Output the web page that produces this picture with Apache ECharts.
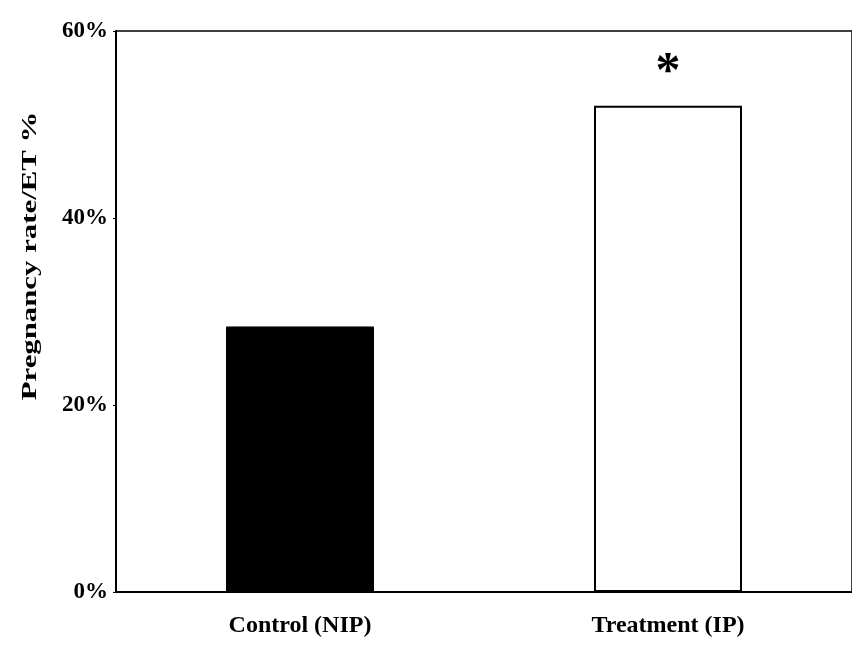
<!DOCTYPE html>
<html>
<head>
<meta charset="utf-8">
<script src="https://cdn.jsdelivr.net/npm/echarts@6/dist/echarts.min.js"></script>
<style>html,body{margin:0;padding:0;background:#fff;}#c{width:852px;height:652px;}</style>
</head>
<body>
<div id="c"></div>
<script>
var categories = ['Control (NIP)', 'Treatment (IP)'];
var rates = [28.4, 52.0];
var significance = ['', '*'];
var yTicks = [0, 20, 40, 60];
var yAxisTitle = 'Pregnancy rate/ET %';

var chart = echarts.init(document.getElementById('c'), null, {renderer: 'canvas'});
var font = 'Liberation Serif';
chart.setOption({
  animation: false,
  backgroundColor: '#fff',
  grid: {left: 116, right: 0, top: 31, bottom: 60, show: true, borderColor: '#000', borderWidth: 1.5, backgroundColor: 'transparent'},
  xAxis: {
    type: 'category',
    data: categories,
    axisLine: {lineStyle: {color: '#000', width: 2}},
    axisTick: {show: false},
    axisLabel: {color: '#000', fontFamily: font, fontWeight: 'bold', fontSize: 24, margin: 22}
  },
  yAxis: {
    type: 'value',
    min: yTicks[0], max: yTicks[yTicks.length - 1], interval: 20,
    axisLine: {show: true, lineStyle: {color: '#000', width: 2}},
    axisTick: {show: true, length: 3, lineStyle: {color: '#000'}},
    splitLine: {show: false},
    axisLabel: {color: '#000', fontFamily: font, fontWeight: 'bold', fontSize: 23, margin: 8,
      formatter: function (v) { return v + '%'; }}
  },
  graphic: [{
    type: 'text', x: 30, y: 256, rotation: Math.PI / 2, scaleX: 1.4, scaleY: 1,
    style: {text: yAxisTitle, font: 'bold 22px "Liberation Serif"', fill: '#000', align: 'center', verticalAlign: 'middle'}
  }],
  series: [{
    type: 'bar',
    barWidth: 148,
    data: rates.map(function (v, i) {
      return {
        value: v,
        itemStyle: i === 0 ? {color: '#000', borderColor: '#000', borderWidth: 1}
                           : {color: '#fff', borderColor: '#000', borderWidth: 2},
        label: {show: significance[i] !== '', formatter: significance[i], position: 'top', distance: 8,
          color: '#000', fontFamily: font, fontWeight: 'bold', fontSize: 50}
      };
    })
  }]
});
</script>
</body>
</html>
